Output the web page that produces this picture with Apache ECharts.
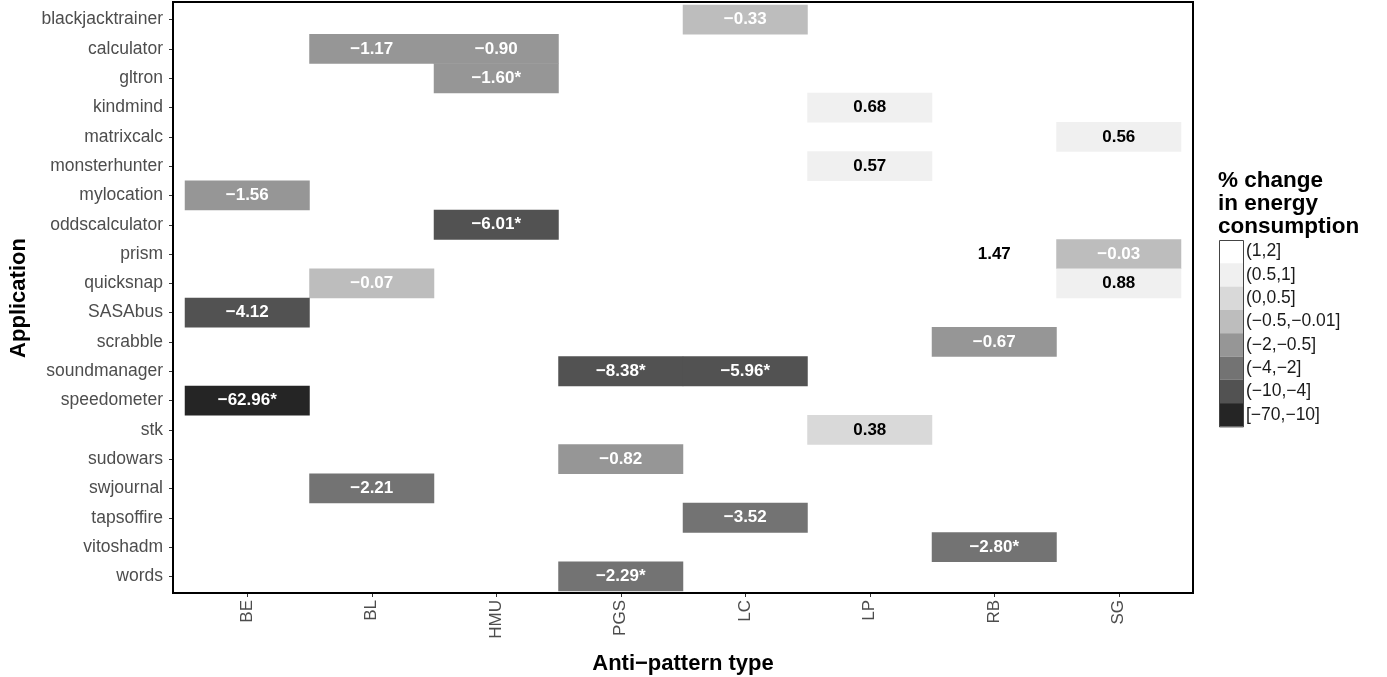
<!DOCTYPE html>
<html>
<head>
<meta charset="utf-8">
<script src="https://cdn.jsdelivr.net/npm/echarts@6/dist/echarts.min.js"></script>
<style>html,body{margin:0;padding:0;background:#fff}#c{width:1387px;height:677px}</style>
</head>
<body>
<div id="c"></div>
<script>
const patterns = ['BE','BL','HMU','PGS','LC','LP','RB','SG'];
const apps = ['blackjacktrainer','calculator','gltron','kindmind','matrixcalc','monsterhunter','mylocation','oddscalculator','prism','quicksnap','SASAbus','scrabble','soundmanager','speedometer','stk','sudowars','swjournal','tapsoffire','vitoshadm','words'];
const cellApp     = ['blackjacktrainer','calculator','calculator','gltron','kindmind','matrixcalc','monsterhunter','mylocation','oddscalculator','prism','prism','quicksnap','quicksnap','SASAbus','scrabble','soundmanager','soundmanager','speedometer','stk','sudowars','swjournal','tapsoffire','vitoshadm','words'];
const cellPattern = ['LC','BL','HMU','HMU','LP','SG','LP','BE','HMU','RB','SG','BL','SG','BE','RB','PGS','LC','BE','LP','PGS','BL','LC','RB','PGS'];
const cellValue   = [-0.33,-1.17,-0.90,-1.60,0.68,0.56,0.57,-1.56,-6.01,1.47,-0.03,-0.07,0.88,-4.12,-0.67,-8.38,-5.96,-62.96,0.38,-0.82,-2.21,-3.52,-2.80,-2.29];
const cellSig     = [false,false,false,true,false,false,false,false,true,false,false,false,false,false,false,true,true,true,false,false,false,false,true,true];
const legendLabels = ['(1,2]','(0.5,1]','(0,0.5]','(\u22120.5,\u22120.01]','(\u22122,\u22120.5]','(\u22124,\u22122]','(\u221210,\u22124]','[\u221270,\u221210]'];
const legendColors = ['#ffffff','#f0f0f0','#d9d9d9','#bdbdbd','#969696','#737373','#525252','#252525'];

const FONT = '"Liberation Sans", Arial, Helvetica, sans-serif';
const fmt = (v, s) => (v < 0 ? '\u2212' : '') + Math.abs(v).toFixed(2) + (s ? '*' : '');

const data = cellValue.map((v, i) => ({
  value: [patterns.indexOf(cellPattern[i]), apps.indexOf(cellApp[i]), v],
  txt: fmt(v, cellSig[i]),
  label: { color: v < 0 ? '#ffffff' : '#000000' }
}));

const pieces = [
  { gt: 1, lte: 2 },
  { gt: 0.5, lte: 1 },
  { gt: 0, lte: 0.5 },
  { gt: -0.5, lte: -0.01 },
  { gt: -2, lte: -0.5 },
  { gt: -4, lte: -2 },
  { gt: -10, lte: -4 },
  { gte: -70, lte: -10 }
].map((p, i) => Object.assign(p, { label: legendLabels[i], color: legendColors[i] }));

const chart = echarts.init(document.getElementById('c'), null, { renderer: 'canvas' });
chart.setOption({
  animation: false,
  backgroundColor: '#ffffff',
  textStyle: { fontFamily: FONT },
  title: {
    text: '% change\nin energy\nconsumption',
    left: 1218, top: 169, padding: 0,
    textStyle: { fontFamily: FONT, fontSize: 22.5, fontWeight: 'bold', lineHeight: 23, color: '#000' }
  },
  grid: { left: 185, top: 5, width: 996, height: 586, containLabel: false, outerBoundsMode: 'none' },
  xAxis: {
    type: 'category', data: patterns, position: 'bottom', offset: 2,
    name: 'Anti\u2212pattern type', nameLocation: 'middle', nameGap: 60,
    nameTextStyle: { fontFamily: FONT, fontSize: 22, fontWeight: 'bold', color: '#000' },
    axisLine: { show: false },
    axisTick: { show: true, alignWithLabel: true, length: 4, lineStyle: { color: '#333', width: 1 } },
    axisLabel: { rotate: 90, margin: 7, fontSize: 17, color: '#4d4d4d', fontFamily: FONT, interval: 0 },
    splitLine: { show: false }
  },
  yAxis: {
    type: 'category', data: apps, inverse: true, offset: 12,
    name: 'Application', nameLocation: 'middle', nameGap: 143, nameRotate: 90,
    nameTextStyle: { fontFamily: FONT, fontSize: 22, fontWeight: 'bold', color: '#000' },
    axisLine: { show: false },
    axisTick: { show: true, alignWithLabel: true, length: 4, lineStyle: { color: '#333', width: 1 } },
    axisLabel: { margin: 10, fontSize: 17.5, color: '#4d4d4d', fontFamily: FONT, interval: 0 },
    splitLine: { show: false }
  },
  visualMap: {
    type: 'piecewise', dimension: 2, pieces: pieces,
    orient: 'vertical', align: 'left', left: 1219, top: 240, padding: 0,
    itemWidth: 24, itemHeight: 23.3, itemGap: 0, itemSymbol: 'rect',
    textGap: 3, selectedMode: false, hoverLink: false, showLabel: true,
    textStyle: { fontFamily: FONT, fontSize: 17.5, color: '#1a1a1a' }
  },
  series: [{
    type: 'heatmap', data: data,
    label: {
      show: true, fontFamily: FONT, fontSize: 17, fontWeight: 'bold',
      formatter: p => p.data.txt
    },
    emphasis: { disabled: true },
    itemStyle: { borderWidth: 0 }
  }],
  graphic: [
    { type: 'rect', z: 100, silent: true, shape: { x: 173, y: 2, width: 1020, height: 591 },
      style: { fill: null, stroke: '#000', lineWidth: 2 } },
    { type: 'rect', z: 100, silent: true, shape: { x: 1219.5, y: 240.5, width: 24, height: 186.4 },
      style: { fill: null, stroke: '#444', lineWidth: 1 } }
  ]
});
</script>
</body>
</html>
